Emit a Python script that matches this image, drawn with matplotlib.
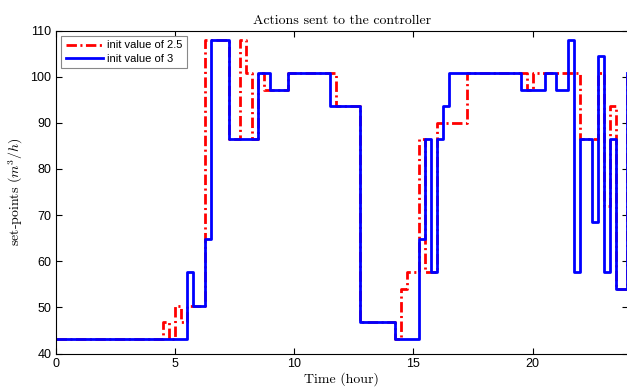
import matplotlib
matplotlib.use("Agg")
import matplotlib.pyplot as plt

# ---- data (time in hours, set-points in m^3/h) ----
t_red = [0, 4.5, 4.75, 5.0, 5.25, 5.5, 6.25, 7.25, 7.75, 8.0, 8.25, 8.5, 8.75, 9.75,
         11.75, 12.75, 14.25, 14.5, 14.75, 15.25, 15.5, 16.0, 17.25, 19.75, 20.0,
         22.0, 22.75, 23.0, 23.25, 23.5, 23.95]
v_red = [43.2, 46.8, 43.2, 50.4, 46.8, 50.4, 108.0, 86.4, 108.0, 100.8, 86.4, 100.8, 97.2, 100.8,
         93.6, 46.8, 43.2, 54.0, 57.6, 86.4, 57.6, 90.0, 100.8, 97.2, 100.8,
         86.4, 100.8, 72.0, 93.6, 54.0, 100.8]

t_blue = [0, 5.5, 5.75, 6.25, 6.5, 7.25, 8.5, 9.0, 9.75, 11.5, 12.75, 14.25, 15.25, 15.5,
          15.75, 16.0, 16.25, 16.5, 19.5, 20.5, 21.0, 21.5, 21.75, 22.0, 22.5, 22.75,
          23.0, 23.25, 23.5, 23.95]
v_blue = [43.2, 57.6, 50.4, 64.8, 108.0, 86.4, 100.8, 97.2, 100.8, 93.6, 46.8, 43.2, 64.8, 86.4,
          57.6, 86.4, 93.6, 100.8, 97.2, 100.8, 97.2, 108.0, 57.6, 86.4, 68.4, 104.4,
          57.6, 86.4, 54.0, 100.8]

labels = ["init value of 2.5", "init value of 3"]
x_ticks = [0, 5, 10, 15, 20]
y_ticks = [40, 50, 60, 70, 80, 90, 100, 110]

plt.rcParams['mathtext.fontset'] = 'cm'
plt.rcParams['font.family'] = ['Liberation Sans', 'DejaVu Sans']
plt.rcParams['lines.scale_dashes'] = False

fig = plt.figure(figsize=(6.27, 3.9), dpi=100)
ax = fig.add_axes([55.6 / 627, 1 - 353.5 / 390, (628.0 - 55.6) / 627, (353.5 - 30.5) / 390])

l1, = ax.step(t_red, v_red, where='post', color='#ff0000', lw=2.0,
              dashes=(7.5, 2.5, 1.5, 2.5), label=labels[0])
l2, = ax.step(t_blue, v_blue, where='post', color='#0000ff', lw=2.0, label=labels[1])

ax.set_xlim(0, 24)
ax.set_ylim(40, 110)
ax.set_xticks(x_ticks)
ax.set_yticks(y_ticks)
ax.tick_params(direction='in', top=True, right=True, length=4, width=0.8,
               labelsize=9, pad=3)
for s in ax.spines.values():
    s.set_linewidth(0.8)

ax.set_title('Actions sent to the controller', fontfamily='cmr10', fontsize=10, pad=5)
ax.set_xlabel('Time (hour)', fontfamily='cmr10', fontsize=10, labelpad=2)
ax.set_ylabel(r'set-points ($m^3/h$)', fontfamily='cmr10', fontsize=10, labelpad=4)

leg = ax.legend(loc='upper left', fontsize=8, handlelength=3.4, handletextpad=0.3,
                borderpad=0.4, labelspacing=0.3, fancybox=False, framealpha=1,
                borderaxespad=0.5)
leg.get_frame().set_edgecolor('#888888')
leg.get_frame().set_linewidth(0.8)

fig.savefig('out.png', dpi=100)
